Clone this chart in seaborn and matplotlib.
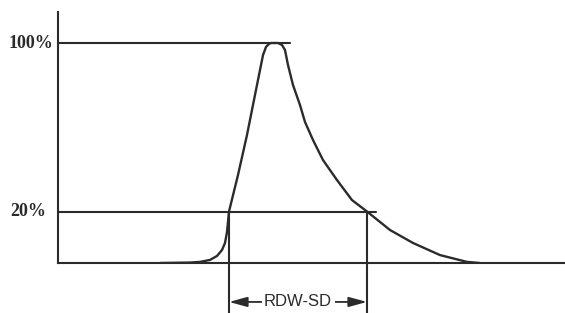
import matplotlib
matplotlib.use("Agg")
import matplotlib.pyplot as plt
import pandas as pd
import seaborn as sns

# RDW-SD schematic: red cell volume distribution curve, height relative to peak (%)
channel = [102, 132, 142, 152, 159, 164, 167, 169, 171, 180, 189, 197, 202, 205,
           208, 211, 213, 220, 224, 227, 230, 235, 242, 247, 255, 265, 279, 294,
           309, 332, 355, 382, 409, 422]
height = [0.0, 0.2, 0.5, 1.4, 3.2, 5.9, 9.1, 14.1, 23.4, 40.0, 58.2, 76.4, 87.7,
          94.5, 98.2, 99.6, 100.0, 100.0, 99.1, 96.8, 90.0, 80.9, 71.8, 64.1, 55.9,
          46.8, 37.7, 28.6, 23.4, 15.0, 9.1, 3.6, 0.5, 0.0]

level_labels = ["100%", "20%"]
level_heights = [100.0, 23.4]        # where the reference lines sit on the drawing
level_ends = [232, 318]              # how far each reference line runs
rdw_left, rdw_right = 171, 309       # curve crossings at the 20% level
rdw_label = "RDW-SD"

ink = "#2b2b2b"

sns.set_style("white")
plt.rcParams["font.family"] = ["Liberation Sans", "DejaVu Sans"]

fig = plt.figure(figsize=(5.65, 3.13), dpi=100)
ax = fig.add_axes([58 / 565, 50 / 313, 507 / 565, 251 / 313])
ax.set_xlim(0, 507)
ax.set_ylim(0, 251 / 2.2)

df = pd.DataFrame({"channel": channel, "height": height})
sns.lineplot(data=df, x="channel", y="height", ax=ax, color=ink, lw=1.7,
             sort=False, solid_capstyle="round", solid_joinstyle="round")

# reference levels
for lab, h, end, dx in zip(level_labels, level_heights, level_ends, [-5, -12]):
    ax.plot([0, end], [h, h], color=ink, lw=1.5, clip_on=False)
    ax.text(dx, h, lab, ha="right", va="center", fontsize=13, fontweight="bold",
            family=["Liberation Serif", "DejaVu Serif"], color=ink)

# drop lines from the 20% crossings and the width arrow
arrow_y = -17.7
for xv in [rdw_left, rdw_right]:
    ax.plot([xv, xv], [level_heights[1], -23.0], color=ink, lw=1.5, clip_on=False)

ax.annotate("", xy=(rdw_left, arrow_y), xytext=(rdw_right, arrow_y),
            annotation_clip=False,
            arrowprops=dict(arrowstyle="<|-|>,head_length=1.1,head_width=0.3",
                            mutation_scale=10, color=ink, lw=1.3,
                            shrinkA=0, shrinkB=0))
ax.text((rdw_left + rdw_right) / 2, arrow_y, rdw_label, ha="center", va="center",
        fontsize=12, color=ink, clip_on=False,
        bbox=dict(boxstyle="square,pad=0.15", fc="white", ec="none"))

for side in ["top", "right"]:
    ax.spines[side].set_visible(False)
for side in ["left", "bottom"]:
    ax.spines[side].set_color(ink)
    ax.spines[side].set_linewidth(1.5)
ax.set_xticks([])
ax.set_yticks([])
ax.set_xlabel("")
ax.set_ylabel("")

fig.savefig("out.png", dpi=100, facecolor="white")
